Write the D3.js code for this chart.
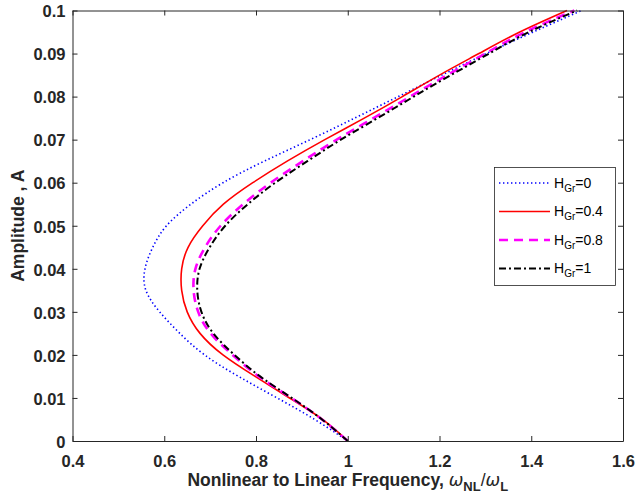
<!DOCTYPE html>
<html>
<head>
<meta charset="utf-8">
<script src="https://cdn.jsdelivr.net/npm/d3@7"></script>
<style>
  html, body { margin: 0; padding: 0; background: #fff; }
  svg { display: block; font-family: "Liberation Sans", Arial, Helvetica, sans-serif; }
</style>
</head>
<body>
<svg id="chart" width="636" height="501"></svg>
<script>
// Amplitude samples shared by every backbone curve
const amplitude = [0, 0.005, 0.01, 0.015, 0.02, 0.025, 0.03, 0.035, 0.04, 0.045, 0.05,
                   0.055, 0.06, 0.065, 0.07, 0.075, 0.08, 0.085, 0.09, 0.095, 0.1];

// Nonlinear-to-linear frequency ratio for each graphene content H_Gr
const freqH0  = [1.000, 0.928, 0.846, 0.762, 0.688, 0.634, 0.590, 0.560, 0.558, 0.575, 0.605,
                 0.658, 0.728, 0.818, 0.918, 1.015, 1.110, 1.205, 1.302, 1.404, 1.510];
const freqH04 = [1.000, 0.945, 0.873, 0.798, 0.728, 0.678, 0.650, 0.638, 0.638, 0.652, 0.684,
                 0.729, 0.793, 0.868, 0.950, 1.036, 1.119, 1.200, 1.286, 1.375, 1.478];
const freqH08 = [1.000, 0.944, 0.877, 0.806, 0.749, 0.701, 0.674, 0.664, 0.668, 0.689, 0.723,
                 0.772, 0.832, 0.902, 0.976, 1.056, 1.136, 1.217, 1.300, 1.387, 1.494];
const freqH1  = [1.000, 0.944, 0.878, 0.809, 0.753, 0.707, 0.681, 0.672, 0.677, 0.699, 0.733,
                 0.782, 0.842, 0.912, 0.985, 1.065, 1.144, 1.225, 1.308, 1.395, 1.500];

const seriesLabels = ["0", "0.4", "0.8", "1"];
const xTicks = [0.4, 0.6, 0.8, 1.0, 1.2, 1.4, 1.6];
const yTicks = [0, 0.01, 0.02, 0.03, 0.04, 0.05, 0.06, 0.07, 0.08, 0.09, 0.1];

// Line styles per series
const styles = [
  { color: "#0000ff", width: 1.6, dash: "1.4,2.6" },
  { color: "#ff0000", width: 1.6, dash: null },
  { color: "#ff00ff", width: 2.6, dash: "9,6" },
  { color: "#000000", width: 2.0, dash: "7,3,2,3" }
];

const series = [freqH0, freqH04, freqH08, freqH1].map((f, i) => ({
  label: seriesLabels[i],
  points: amplitude.map((a, j) => ({ a: a, w: f[j] })),
  style: styles[i]
}));

const svg = d3.select("#chart");
const plotLeft = 72.5, plotRight = 623, plotTop = 10.5, plotBottom = 441;
const axisColor = "#262626";

const x = d3.scaleLinear().domain([0.4, 1.6]).range([plotLeft, plotRight]);
const y = d3.scaleLinear().domain([0, 0.1]).range([plotBottom, plotTop]);

const fmt = d => d3.format("~g")(d);

// Curves: amplitude is evenly spaced, so a natural spline over the samples is smooth in A
const line = d3.line()
  .x(d => x(d.w))
  .y(d => y(d.a))
  .curve(d3.curveNatural);

const plot = svg.append("g");
series.forEach(s => {
  plot.append("path")
    .datum(s.points)
    .attr("fill", "none")
    .attr("stroke", s.style.color)
    .attr("stroke-width", s.style.width)
    .attr("stroke-dasharray", s.style.dash)
    .attr("d", line);
});

// Axes (ticks point inward, box on all sides)
const tickFont = "bold 16.5px 'Liberation Sans', Arial, sans-serif";

const gx = svg.append("g").attr("transform", `translate(0,${plotBottom})`)
  .call(d3.axisBottom(x).tickValues(xTicks).tickFormat(fmt).tickSizeInner(-5).tickSizeOuter(0));
gx.selectAll("text").attr("y", 25.5).attr("dy", 0).style("font", tickFont).attr("fill", axisColor);

const gxTop = svg.append("g").attr("transform", `translate(0,${plotTop})`)
  .call(d3.axisTop(x).tickValues(xTicks).tickFormat("").tickSizeInner(-5).tickSizeOuter(0));

const gy = svg.append("g").attr("transform", `translate(${plotLeft},0)`)
  .call(d3.axisLeft(y).tickValues(yTicks).tickFormat(fmt).tickSizeInner(-5).tickSizeOuter(0));
gy.selectAll("text").attr("x", -7).attr("dy", "0.38em").style("font", tickFont).attr("fill", axisColor);

const gyRight = svg.append("g").attr("transform", `translate(${plotRight},0)`)
  .call(d3.axisRight(y).tickValues(yTicks).tickFormat("").tickSizeInner(-5).tickSizeOuter(0));

[gx, gxTop, gy, gyRight].forEach(g => {
  g.select(".domain").attr("stroke", axisColor).attr("stroke-width", 1);
  g.selectAll(".tick line").attr("stroke", axisColor).attr("stroke-width", 1);
});

// Axis titles
const xt = svg.append("text")
  .attr("x", (plotLeft + plotRight) / 2)
  .attr("y", 486)
  .attr("text-anchor", "middle")
  .attr("fill", axisColor)
  .style("font", "bold 17.5px 'Liberation Sans', Arial, sans-serif");
xt.append("tspan").text("Nonlinear to Linear Frequency, ");
xt.append("tspan").text("ω").style("font-style", "italic").style("font-weight", "normal")
  .style("font-family", "'DejaVu Sans', sans-serif");
xt.append("tspan").text("NL").attr("dy", 5).style("font-size", "13px");
xt.append("tspan").text("/").attr("dy", -5).style("font-weight", "normal");
xt.append("tspan").text("ω").style("font-style", "italic").style("font-weight", "normal")
  .style("font-family", "'DejaVu Sans', sans-serif");
xt.append("tspan").text("L").attr("dy", 5).style("font-size", "13px");

svg.append("text")
  .attr("transform", `translate(24,${(plotTop + plotBottom) / 2}) rotate(-90)`)
  .attr("text-anchor", "middle")
  .attr("fill", axisColor)
  .style("font", "bold 17.5px 'Liberation Sans', Arial, sans-serif")
  .text("Amplitude , A");

// Legend
const lg = svg.append("g");
lg.append("rect")
  .attr("x", 494.5).attr("y", 167.5)
  .attr("width", 121).attr("height", 118)
  .attr("fill", "#fff")
  .attr("stroke", axisColor)
  .attr("stroke-width", 0.8);

series.forEach((s, i) => {
  const ly = 183 + i * 28.5;
  lg.append("line")
    .attr("x1", 499).attr("x2", 550)
    .attr("y1", ly).attr("y2", ly)
    .attr("stroke", s.style.color)
    .attr("stroke-width", s.style.width)
    .attr("stroke-dasharray", s.style.dash);
  const t = lg.append("text")
    .attr("x", 554).attr("y", ly + 4.5)
    .attr("fill", "#000")
    .style("font", "14px 'Liberation Sans', Arial, sans-serif");
  t.append("tspan").text("H");
  t.append("tspan").text("Gr").attr("dy", 4).style("font-size", "10px");
  t.append("tspan").text("=" + s.label).attr("dy", -4);
});
</script>
</body>
</html>
